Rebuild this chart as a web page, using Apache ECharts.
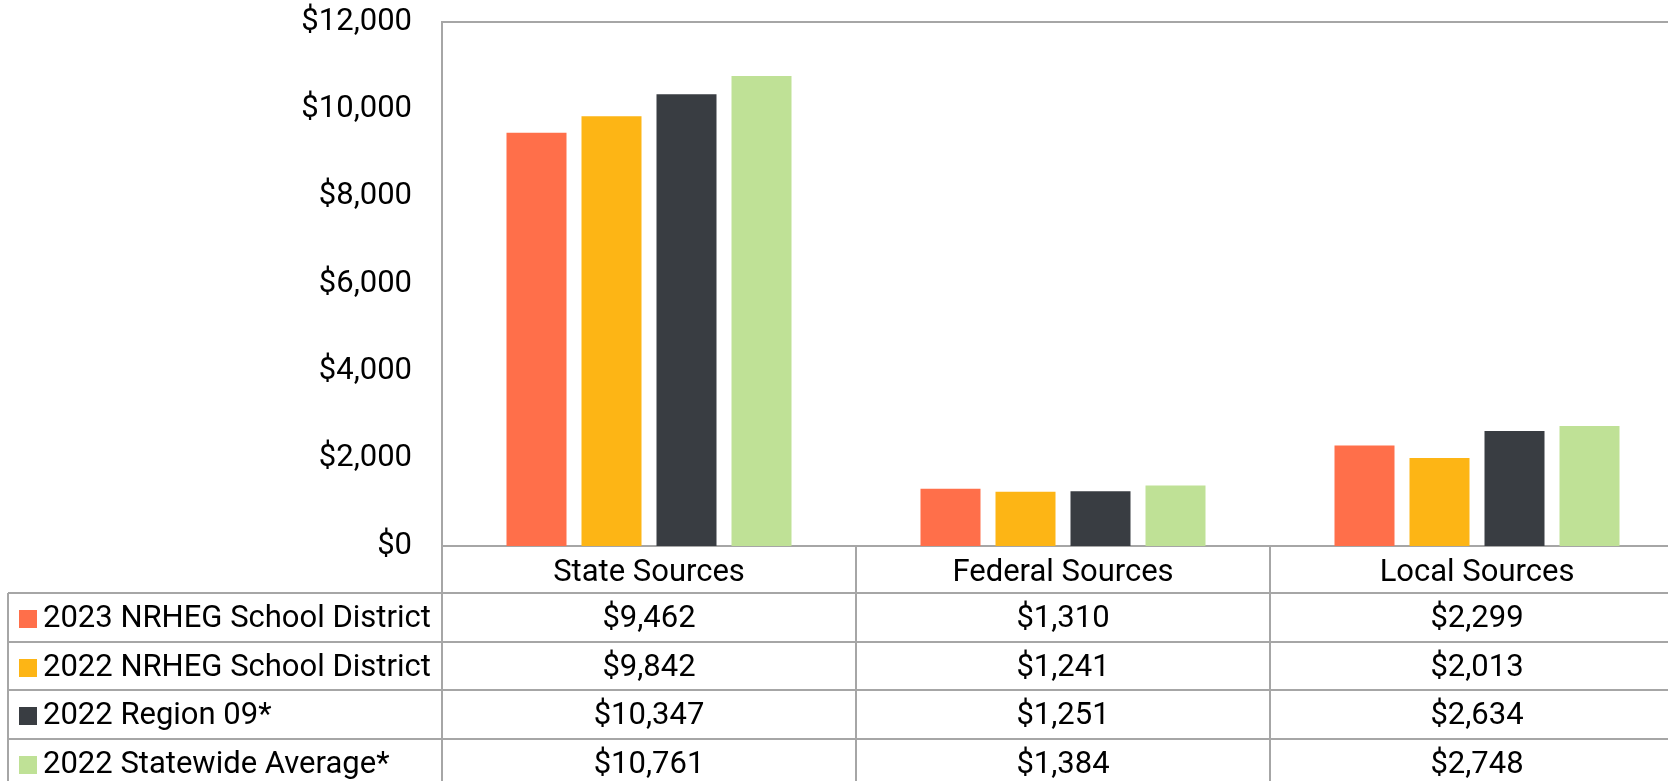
<!DOCTYPE html>
<html><head><meta charset="utf-8">
<script src="https://cdn.jsdelivr.net/npm/echarts@6/dist/echarts.min.js"></script>
<style>html,body{margin:0;padding:0;background:#fff}#c{width:1668px;height:781px}</style>
</head><body><div id="c"></div>
<script>
const categories = ['State Sources', 'Federal Sources', 'Local Sources'];
const seriesNames = ['2023 NRHEG School District', '2022 NRHEG School District', '2022 Region 09*', '2022 Statewide Average*'];
const v2023District = [9462, 1310, 2299];
const v2022District = [9842, 1241, 2013];
const v2022Region = [10347, 1251, 2634];
const v2022State = [10761, 1384, 2748];
const colors = ['#FF6F4A', '#FDB515', '#393D42', '#BFE196'];
const yTicks = [0, 2000, 4000, 6000, 8000, 10000, 12000];

const allValues = [v2023District, v2022District, v2022Region, v2022State];
const FONT = 'Roboto';
const FS = 31;
const LINE = '#A6A6A6';
const fmt = v => '$' + v.toLocaleString('en-US');

const gridLeft = 442, gridTop = 22, axisY = 546;
const rowTop0 = 593, rowH = 48.5, tableLeft = 8;

const chart = echarts.init(document.getElementById('c'), null, {renderer: 'canvas'});
chart.setOption({
  animation: false,
  grid: {left: gridLeft, top: gridTop, width: 1242, height: axisY - gridTop, show: true, borderColor: LINE, borderWidth: 2, containLabel: false, outerBoundsMode: 'none'},
  xAxis: {
    type: 'category', data: categories,
    axisLine: {lineStyle: {color: LINE, width: 2}},
    axisTick: {show: true, length: 245, lineStyle: {color: LINE, width: 2}},
    axisLabel: {color: '#000', fontFamily: FONT, fontSize: FS, margin: 12}
  },
  yAxis: {
    type: 'value', min: yTicks[0], max: yTicks[yTicks.length - 1], interval: 2000,
    axisLine: {show: false}, axisTick: {show: false}, splitLine: {show: false},
    axisLabel: {color: '#000', fontFamily: FONT, fontSize: FS, margin: 30, formatter: v => fmt(v)}
  },
  series: seriesNames.map((n, i) => ({
    name: n, type: 'bar', data: allValues[i], barWidth: 60, barGap: '25%',
    itemStyle: {color: colors[i]}
  }))
});

const graphics = [];
for (let k = 0; k <= seriesNames.length; k++) {
  const y = Math.round(rowTop0 + k * rowH);
  graphics.push({type: 'line', shape: {x1: tableLeft, y1: y, x2: 1668, y2: y}, style: {stroke: LINE, lineWidth: 2}, z: 10});
}
graphics.push({type: 'line', shape: {x1: tableLeft, y1: rowTop0, x2: tableLeft, y2: 790}, style: {stroke: LINE, lineWidth: 2}, z: 10});
seriesNames.forEach((n, i) => {
  const cy = rowTop0 + i * rowH + rowH / 2 + 2;
  graphics.push({type: 'rect', shape: {x: 19, y: Math.round(cy - 9), width: 18, height: 18}, style: {fill: colors[i]}, z: 10});
  graphics.push({type: 'text', x: 43, y: cy, style: {text: n, font: FS + 'px ' + FONT, fill: '#000', verticalAlign: 'middle', align: 'left'}, z: 10});
  categories.forEach((c, j) => {
    const cx = chart.convertToPixel({xAxisIndex: 0}, j);
    graphics.push({type: 'text', x: cx, y: cy, style: {text: fmt(allValues[i][j]), font: FS + 'px ' + FONT, fill: '#000', verticalAlign: 'middle', align: 'center'}, z: 10});
  });
});
chart.setOption({graphic: graphics});
</script></body></html>
